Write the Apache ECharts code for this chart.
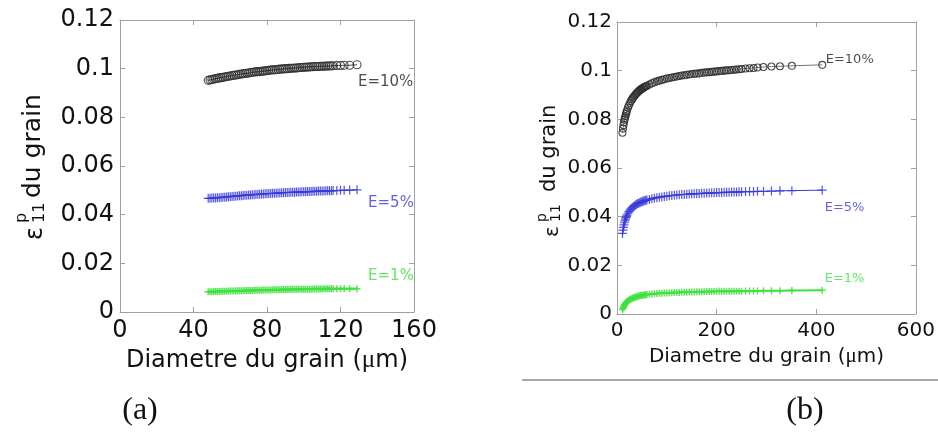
<!DOCTYPE html>
<html><head><meta charset="utf-8">
<script src="https://cdn.jsdelivr.net/npm/echarts@6/dist/echarts.min.js"></script>
<style>html,body{margin:0;padding:0;background:#fff}#c{width:938px;height:437px}</style>
</head><body><div id="c"></div>
<script>
// ---- Panel (a) data: grain diameter (µm) and plastic strain per loading level ----
const xA = [48,49,50,51,52,53,54,55,56,57,58,59,60,61,62,63,64,65,66,67,68,69,70,71,72,73,74,75,76,77,78,79,80,81,82,83,84,85,86,87,88,89,90,91,92,93,94,95,96,97,98,99,100,101,102,103,104,105,106,107,108,109,110,111,112,113,114,115,116,118,120,122,125,129];
const e10A = [.0952,.0954,.0955,.0957,.0959,.0960,.0962,.0963,.0965,.0966,.0968,.0969,.0970,.0972,.0973,.0974,.0975,.0977,.0978,.0979,.0980,.0981,.0982,.0984,.0985,.0986,.0987,.0988,.0988,.0989,.0990,.0991,.0992,.0993,.0994,.0995,.0995,.0996,.0997,.0998,.0998,.0999,.1000,.1000,.1001,.1002,.1002,.1003,.1003,.1004,.1005,.1005,.1006,.1006,.1007,.1007,.1008,.1008,.1009,.1009,.1009,.1010,.1010,.1010,.1011,.1011,.1011,.1012,.1012,.1013,.1013,.1014,.1014,.1016];
const e5A = [.0467,.0467,.0468,.0468,.0469,.0470,.0470,.0471,.0472,.0472,.0473,.0474,.0474,.0475,.0476,.0476,.0477,.0478,.0478,.0479,.0480,.0480,.0481,.0481,.0482,.0482,.0483,.0484,.0484,.0485,.0485,.0486,.0486,.0487,.0487,.0488,.0488,.0488,.0489,.0489,.0490,.0490,.0491,.0491,.0491,.0492,.0492,.0492,.0493,.0493,.0493,.0494,.0494,.0494,.0495,.0495,.0495,.0496,.0496,.0496,.0497,.0497,.0497,.0497,.0498,.0498,.0498,.0498,.0499,.0499,.0500,.0500,.0501,.0502];
const e1A = [.0083,.0083,.0083,.0084,.0084,.0084,.0084,.0085,.0085,.0085,.0085,.0086,.0086,.0086,.0086,.0086,.0087,.0087,.0087,.0087,.0088,.0088,.0088,.0088,.0088,.0089,.0089,.0089,.0089,.0089,.0090,.0090,.0090,.0090,.0090,.0091,.0091,.0091,.0091,.0091,.0092,.0092,.0092,.0092,.0092,.0093,.0093,.0093,.0093,.0093,.0093,.0094,.0094,.0094,.0094,.0094,.0094,.0095,.0095,.0095,.0095,.0095,.0095,.0096,.0096,.0096,.0096,.0096,.0096,.0096,.0096,.0096,.0096,.0096];

// ---- Panel (b) data ----
const xB = [11,12,13,14,15,16,17,18,19,20,22,24,26,28,30,32,34,36,38,40,42,44,46,48,50,52,54,56,58,60,65,70,75,80,85,90,95,100,105,110,115,120,125,130,135,140,145,150,155,160,165,170,175,180,185,190,195,200,205,210,215,220,225,230,235,240,245,250,258,266,274,282,294,310,327,351,412];
const e10B = [.0745,.0762,.0776,.0788,.0798,.0806,.0814,.0822,.0829,.0836,.0848,.0858,.0867,.0875,.0882,.0888,.0894,.0899,.0904,.0908,.0912,.0916,.0920,.0923,.0926,.0929,.0931,.0934,.0936,.0938,.0943,.0948,.0952,.0956,.0959,.0962,.0965,.0968,.0970,.0972,.0974,.0976,.0978,.0980,.0981,.0983,.0984,.0986,.0987,.0988,.0989,.0991,.0992,.0993,.0994,.0995,.0996,.0997,.0998,.0999,.1000,.1001,.1002,.1003,.1004,.1005,.1006,.1007,.1009,.1010,.1011,.1013,.1015,.1017,.1018,.1020,.1024];
const e5B = [.0331,.0345,.0356,.0366,.0375,.0383,.0390,.0396,.0401,.0406,.0414,.0421,.0427,.0432,.0436,.0440,.0443,.0447,.0449,.0452,.0454,.0456,.0458,.0460,.0461,.0463,.0464,.0466,.0467,.0468,.0471,.0474,.0476,.0478,.0480,.0481,.0483,.0484,.0486,.0487,.0488,.0489,.0490,.0491,.0491,.0492,.0493,.0494,.0494,.0495,.0495,.0496,.0496,.0497,.0497,.0498,.0498,.0499,.0499,.0499,.0500,.0500,.0500,.0501,.0501,.0501,.0502,.0502,.0503,.0503,.0503,.0504,.0504,.0505,.0506,.0507,.0509];
const e1B = [.0018,.0024,.0029,.0033,.0037,.0040,.0043,.0046,.0048,.0050,.0054,.0057,.0060,.0062,.0064,.0066,.0067,.0069,.0070,.0071,.0073,.0074,.0075,.0076,.0076,.0077,.0078,.0079,.0079,.0080,.0081,.0082,.0083,.0084,.0085,.0085,.0086,.0086,.0087,.0087,.0088,.0088,.0088,.0089,.0089,.0089,.0090,.0090,.0090,.0091,.0091,.0091,.0091,.0092,.0092,.0092,.0092,.0093,.0093,.0093,.0093,.0093,.0094,.0094,.0094,.0094,.0094,.0094,.0095,.0095,.0095,.0095,.0096,.0096,.0096,.0097,.0098];

const seriesLabels = ['E=10%','E=5%','E=1%'];

const zip = (xs, ys) => xs.map((x, i) => [x, ys[i]]);
const FONT = 'DejaVu Sans';
const PLUS = 'path://M0,5L10,5M5,0L5,10';
const C10 = '#2e2e2e', C5 = '#3838dc', C1 = '#3ee03e';

function curve(xs, ys, gi, color, symbol, size, lineColor, lw, bw) {
  return {
    type: 'line', xAxisIndex: gi * 2, yAxisIndex: gi * 2,
    data: zip(xs, ys), symbol: symbol, symbolSize: size, showAllSymbol: true,
    lineStyle: { color: lineColor, width: lw },
    itemStyle: { color: 'transparent', borderColor: color, borderWidth: bw, opacity: 0.85 },
    silent: true, animation: false, z: 3
  };
}
function tag(text, gi, pt, color, fs) {
  return {
    type: 'scatter', xAxisIndex: gi * 2, yAxisIndex: gi * 2, data: [pt],
    symbolSize: 0, silent: true, animation: false,
    label: { show: true, formatter: text, position: [0, 0], align: 'left', verticalAlign: 'middle',
      color: color, fontFamily: FONT, fontSize: fs }
  };
}
function xAx(gi, max, interval, fs, gap) {
  const axisStyle = { lineStyle: { color: '#a0a0a0', width: 1 } };
  return [{
    gridIndex: gi, type: 'value', min: 0, max: max, interval: interval, position: 'bottom',
    axisLine: Object.assign({ show: true, onZero: false }, axisStyle),
    axisTick: Object.assign({ show: true, inside: true, length: 5 }, axisStyle),
    splitLine: { show: false },
    axisLabel: { color: '#111', fontFamily: FONT, fontSize: fs, margin: 7 },
    name: 'Diametre du grain ({mu|μ}m)', nameLocation: 'middle', nameGap: gap,
    nameTextStyle: { color: '#111', fontFamily: FONT, fontSize: fs,
      rich: { mu: { fontFamily: 'Liberation Serif', fontSize: fs * 1.05, color: '#111' } } }
  }, {
    gridIndex: gi, type: 'value', min: 0, max: max, interval: interval, position: 'top',
    axisLine: Object.assign({ show: true, onZero: false }, axisStyle),
    axisTick: Object.assign({ show: true, inside: true, length: 5 }, axisStyle),
    splitLine: { show: false }, axisLabel: { show: false }
  }];
}
function yAx(gi, fs, margin) {
  const axisStyle = { lineStyle: { color: '#a0a0a0', width: 1 } };
  return [{
    gridIndex: gi, type: 'value', min: 0, max: 0.12, interval: 0.02, position: 'left',
    axisLine: Object.assign({ show: true, onZero: false }, axisStyle),
    axisTick: Object.assign({ show: true, inside: true, length: 5 }, axisStyle),
    splitLine: { show: false },
    axisLabel: { color: '#111', fontFamily: FONT, fontSize: fs, margin: margin }
  }, {
    gridIndex: gi, type: 'value', min: 0, max: 0.12, interval: 0.02, position: 'right',
    axisLine: Object.assign({ show: true, onZero: false }, axisStyle),
    axisTick: Object.assign({ show: true, inside: true, length: 5 }, axisStyle),
    splitLine: { show: false }, axisLabel: { show: false }
  }];
}
function yTitle(x, y, fe, fs, fm, uSub, vSub, vSup, uMain, vMain) {
  const st = (t, f) => ({ text: t, fontFamily: FONT, fontSize: f, fill: '#111', align: 'left', verticalAlign: 'middle' });
  return {
    type: 'group', x: x, y: y, rotation: Math.PI / 2, silent: true,
    children: [
      { type: 'text', x: 0, y: 0, style: st('ε', fe) },
      { type: 'text', x: uSub, y: vSub, style: st('11', fs) },
      { type: 'text', x: uSub, y: vSup, style: st('p', fs) },
      { type: 'text', x: uMain, y: vMain, style: st('du grain', fm) }
    ]
  };
}

const chart = echarts.init(document.getElementById('c'), null, { renderer: 'canvas' });
chart.setOption({
  animation: false,
  backgroundColor: '#fff',
  grid: [
    { left: 120, right: 524, top: 20, bottom: 125 },
    { left: 617, right: 22, top: 22, bottom: 123 }
  ],
  xAxis: [].concat(xAx(0, 160, 40, 24, 30), xAx(1, 600, 200, 20, 30)),
  yAxis: [].concat(yAx(0, 24, 6), yAx(1, 20, 5)),
  series: [
    curve(xA, e10A, 0, C10, 'circle', 8, '#555', 1.2, 1.1),
    curve(xA, e5A, 0, C5, PLUS, 9, C5, 1, 1.2),
    curve(xA, e1A, 0, C1, PLUS, 7, C1, 2.2, 1.5),
    curve(xB, e10B, 1, C10, 'circle', 7, '#777', 1, 1.1),
    curve(xB, e5B, 1, C5, PLUS, 9, C5, 1, 1.2),
    curve(xB, e1B, 1, C1, PLUS, 7, C1, 2, 1.5),
    tag(seriesLabels[0], 0, [129.5, 0.0945], '#1e1e1e', 15),
    tag(seriesLabels[1], 0, [135, 0.0448], C5, 15),
    tag(seriesLabels[2], 0, [135, 0.0148], C1, 15),
    tag(seriesLabels[0], 1, [419, 0.1047], '#1e1e1e', 13),
    tag(seriesLabels[1], 1, [417, 0.0439], C5, 13),
    tag(seriesLabels[2], 1, [417, 0.0144], C1, 13)
  ],
  graphic: [
    yTitle(36, 240, 24, 16, 25, 17, 4, -14, 42, -3),
    yTitle(553, 237, 20, 14, 21, 15, 3, -11, 45, -3),
    { type: 'line', silent: true, shape: { x1: 522, y1: 380, x2: 938, y2: 380 }, style: { stroke: '#8a8a8a', lineWidth: 1.5 } },
    { type: 'text', x: 140, y: 411, silent: true, style: { text: '(a)', fontFamily: 'Liberation Serif', fontSize: 32, fill: '#111', align: 'center', verticalAlign: 'middle' } },
    { type: 'text', x: 805, y: 411, silent: true, style: { text: '(b)', fontFamily: 'Liberation Serif', fontSize: 32, fill: '#111', align: 'center', verticalAlign: 'middle' } }
  ]
});
</script></body></html>
